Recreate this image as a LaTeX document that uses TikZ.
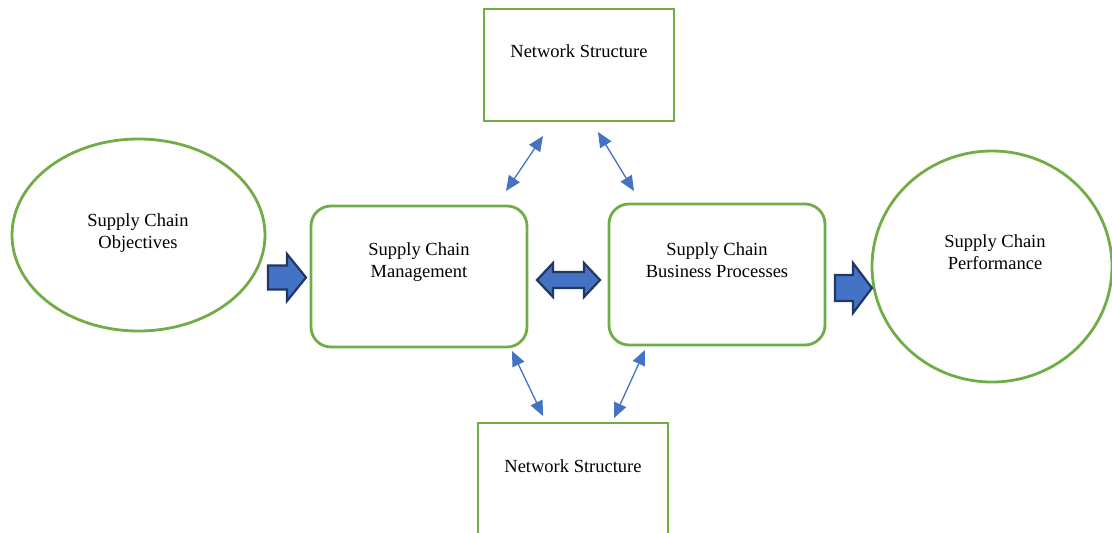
\documentclass[tikz,border=0pt]{standalone}
\usepackage{fontspec}
\setmainfont{Liberation Serif}
\usetikzlibrary{arrows.meta,shapes.geometric}
\definecolor{grn}{HTML}{70AD47}
\definecolor{blu}{HTML}{4472C4}
\definecolor{dblu}{HTML}{1F3864}
\tikzset{
  gbox/.style={draw=grn,line width=2.8pt,rectangle,inner sep=0pt},
  gell/.style={draw=grn,line width=2.8pt,ellipse,inner sep=0pt},
  txt/.style={font=\fontsize{18.5}{22}\selectfont,align=center,inner sep=0pt},
  thin/.style={draw=blu,line width=1.3pt,{Triangle[length=15pt,width=13pt]}-{Triangle[length=15pt,width=13pt]}},
  fat/.style={fill=blu,draw=dblu,line width=2.2pt,line join=miter}
}
\begin{document}
\begin{tikzpicture}[x=1pt,y=-1pt]
\useasboundingbox (0,0) rectangle (1112,533);
% shapes
\node[gbox,minimum width=190pt,minimum height=112pt] (top) at (579,65) {};
\node[gbox,minimum width=190pt,minimum height=116pt] (bot) at (573,481) {};
\node[gbox,rounded corners=20pt,minimum width=216pt,minimum height=141pt] (scm) at (419,276.5) {};
\node[gbox,rounded corners=20pt,minimum width=216pt,minimum height=141pt] (bp) at (717,274.5) {};
\node[gell,minimum width=253pt,minimum height=192pt] (obj) at (138.5,235) {};
\node[gell,minimum width=240pt,minimum height=231pt] (perf) at (992,266.5) {};
% texts
\node[txt] (ttop) at (579,51) {Network Structure};
\node[txt] (tbot) at (573,466) {Network Structure};
\node[txt] (tscm) at (419,262.5) {Supply Chain\\Management};
\node[txt] (tbp) at (717,260.5) {Supply Chain\\Business Processes};
\node[txt] (tobj) at (138,233.5) {Supply Chain\\Objectives};
\node[txt] (tperf) at (995,252.5) {Supply Chain\\Performance};
% thin arrows
\coordinate (a1) at (543,136); \coordinate (a2) at (506,191);
\coordinate (b1) at (598,132); \coordinate (b2) at (634,191);
\coordinate (c1) at (512,351); \coordinate (c2) at (543,416);
\coordinate (d1) at (645,350); \coordinate (d2) at (614,418);
\draw[thin] (a1) -- (a2);
\draw[thin] (b1) -- (b2);
\draw[thin] (c1) -- (c2);
\draw[thin] (d1) -- (d2);
% fat arrows
\draw[fat] (268,265.5) -- (287,265.5) -- (287,254) -- (306,277.5) -- (287,301) -- (287,289.5) -- (268,289.5) -- cycle;
\draw[fat] (537,280) -- (553,263) -- (553,272) -- (584,272) -- (584,263) -- (600,280) -- (584,297) -- (584,288) -- (553,288) -- (553,297) -- cycle;
\draw[fat] (835,275) -- (853,275) -- (853,263) -- (872,288) -- (853,313) -- (853,301) -- (835,301) -- cycle;
\end{tikzpicture}
\end{document}
